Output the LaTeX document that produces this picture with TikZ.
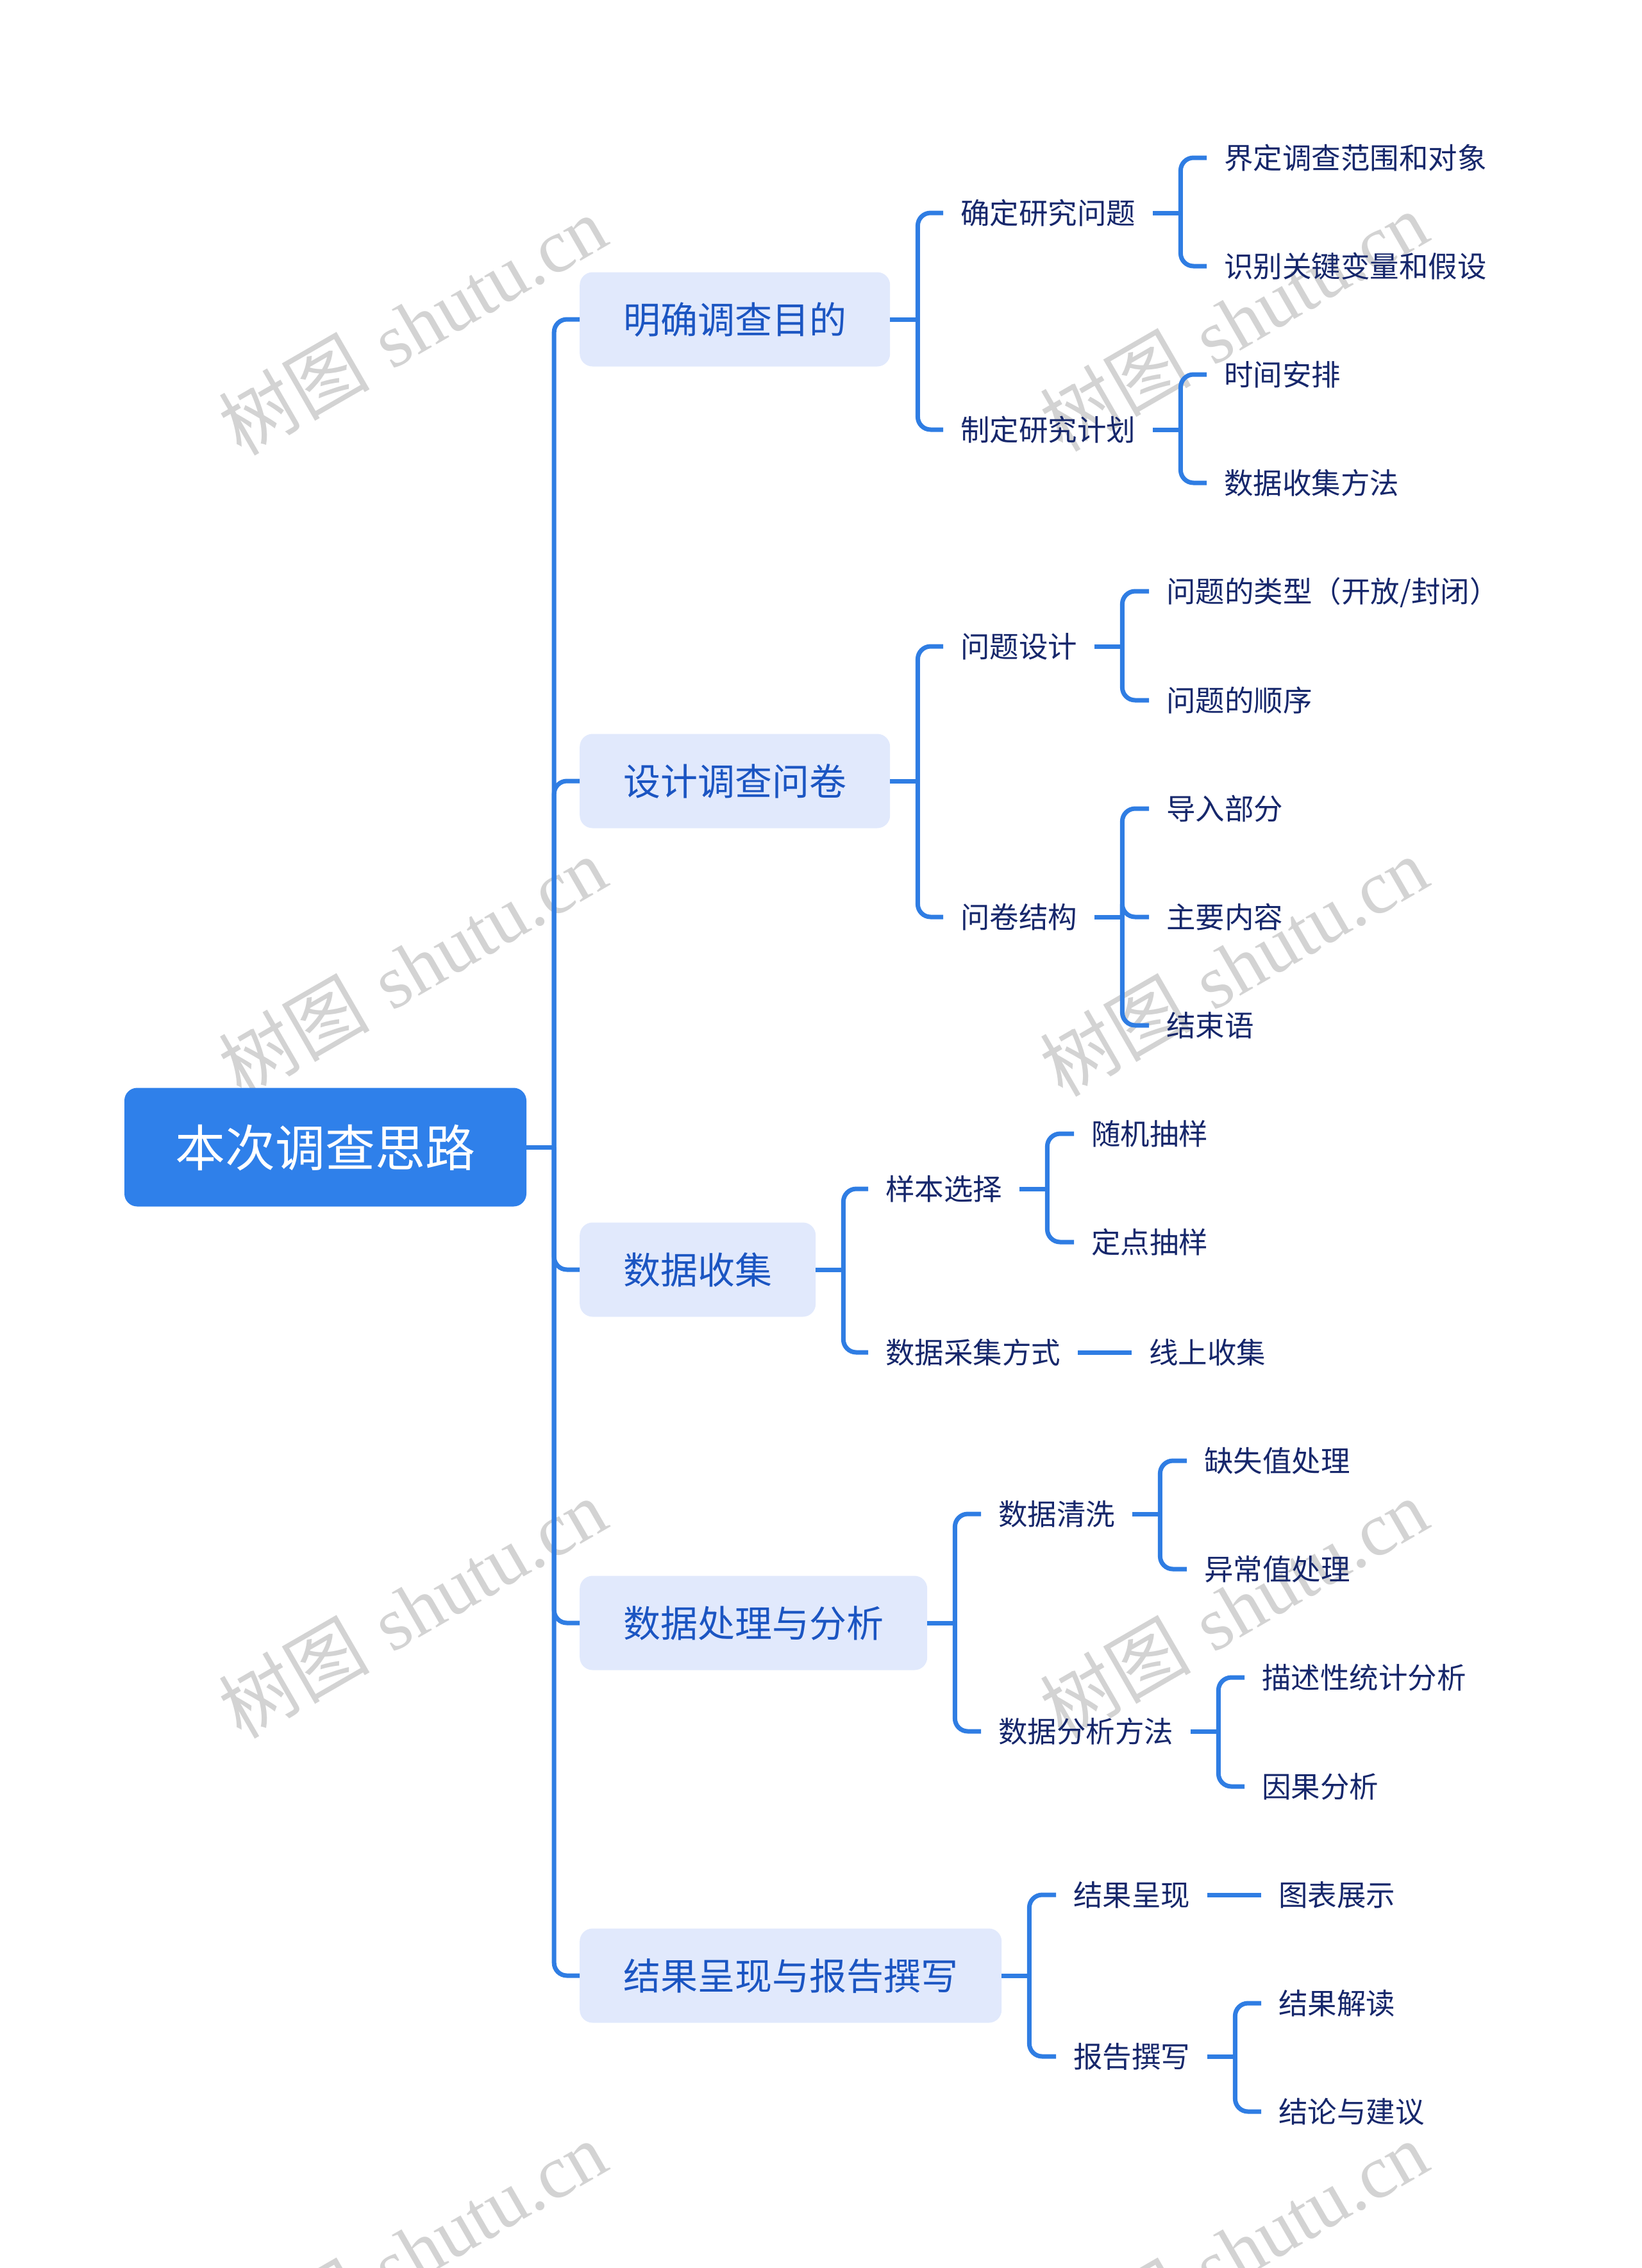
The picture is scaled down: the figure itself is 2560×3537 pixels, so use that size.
\documentclass[tikz,border=0pt]{standalone}
\usepackage{fontspec}
\newfontfamily\cjk{Noto Sans CJK SC}
\newfontfamily\wmserif{Liberation Serif}
\definecolor{lineblue}{HTML}{2F7DE3}
\definecolor{rootblue}{HTML}{2F80EA}
\definecolor{lonefill}{HTML}{E1E9FC}
\definecolor{lonetext}{HTML}{1B55C2}
\definecolor{navy}{HTML}{16276B}
\definecolor{wmgray}{HTML}{D3D3D3}
\begin{document}
\begin{tikzpicture}[x=1pt,y=-1pt,
  conn/.style={line width=7pt, draw=lineblue},
  bracket/.style={conn, rounded corners=20pt},
  rootnode/.style={fill=rootblue, text=white, rounded corners=20pt,
    font=\cjk\fontsize{78}{90}\selectfont, minimum height=185pt,
    minimum width=627pt, inner xsep=0pt, text height=69pt, text depth=9pt},
  lone/.style={fill=lonefill, text=lonetext, rounded corners=20pt,
    font=\cjk\fontsize{58}{70}\selectfont, minimum height=147pt,
    inner xsep=68pt, anchor=west, text height=51pt, text depth=7pt},
  leaf/.style={text=navy, font=\cjk\fontsize{45.5}{55}\selectfont,
    inner sep=0pt, anchor=west, text height=40pt, text depth=5.5pt},
  wm/.style={text=wmgray, rotate=30, inner sep=0pt,
    font=\fontsize{118}{130}\selectfont}
]
\useasboundingbox (0,0) rectangle (2560,3537);

% watermarks
\foreach \wx/\wy [count=\i] in {643/507,1924/501,643/1507,1924/1507,643/2508,1924/2508,643/3510,1924/3510}{
  \node[wm] (wm\i) at (\wx,\wy) {{\cjk 树图} {\wmserif shutu.cn}};
}

% root
\node[rootnode] (root) at (507.5,1789) {本次调查思路};

% level 1
\node[lone] (b1) at (904,498) {明确调查目的};
\node[lone] (b2) at (904,1218) {设计调查问卷};
\node[lone] (b3) at (904,1980) {数据收集};
\node[lone] (b4) at (904,2531) {数据处理与分析};
\node[lone] (b5) at (904,3081) {结果呈现与报告撰写};

% level 2
\node[leaf] (c11) at (1498,332) {确定研究问题};
\node[leaf] (c12) at (1498,670) {制定研究计划};
\node[leaf] (c21) at (1498,1008) {问题设计};
\node[leaf] (c22) at (1498,1430) {问卷结构};
\node[leaf] (c31) at (1381,1854) {样本选择};
\node[leaf] (c32) at (1381,2109) {数据采集方式};
\node[leaf] (c41) at (1557,2361) {数据清洗};
\node[leaf] (c42) at (1557,2700) {数据分析方法};
\node[leaf] (c51) at (1674,2955) {结果呈现};
\node[leaf] (c52) at (1674,3207) {报告撰写};

% level 3
\node[leaf] (d111) at (1909,246) {界定调查范围和对象};
\node[leaf] (d112) at (1909,415) {识别关键变量和假设};
\node[leaf] (d121) at (1909,584) {时间安排};
\node[leaf] (d122) at (1909,753) {数据收集方法};
\node[leaf] (d211) at (1819,922) {问题的类型（开放/封闭）};
\node[leaf] (d212) at (1819,1092) {问题的顺序};
\node[leaf] (d221) at (1819,1261) {导入部分};
\node[leaf] (d222) at (1819,1430) {主要内容};
\node[leaf] (d223) at (1819,1599) {结束语};
\node[leaf] (d311) at (1702,1768) {随机抽样};
\node[leaf] (d312) at (1702,1937) {定点抽样};
\node[leaf] (d321) at (1792,2109) {线上收集};
\node[leaf] (d411) at (1878,2278) {缺失值处理};
\node[leaf] (d412) at (1878,2447) {异常值处理};
\node[leaf] (d421) at (1968,2616) {描述性统计分析};
\node[leaf] (d422) at (1968,2786) {因果分析};
\node[leaf] (d511) at (1994,2955) {图表展示};
\node[leaf] (d521) at (1994,3124) {结果解读};
\node[leaf] (d522) at (1994,3293) {结论与建议};

% root -> level 1
\draw[conn] (root.east) -- ++(43,0) coordinate (rj);
\foreach \b in {b1,b2,b3,b4,b5}{\draw[bracket] (rj) |- (\b.west);}

% level 1 -> level 2
\foreach \b/\x/\y in {b1/c11/c12,b2/c21/c22,b3/c31/c32,b4/c41/c42,b5/c51/c52}{
  \draw[conn] (\b.east) -- ++(43,0) coordinate (\b j);
  \draw[bracket] (\b j) |- ([xshift=-27pt]\x.west);
  \draw[bracket] (\b j) |- ([xshift=-27pt]\y.west);
}

% level 2 -> level 3 (brackets)
\foreach \p/\kids in {c11/{d111,d112},c12/{d121,d122},c21/{d211,d212},c22/{d221,d222,d223},c31/{d311,d312},c41/{d411,d412},c42/{d421,d422},c52/{d521,d522}}{
  \draw[conn] ([xshift=27pt]\p.east) -- ++(43,0) coordinate (\p j);
  \foreach \k in \kids {\draw[bracket] (\p j) |- ([xshift=-27pt]\k.west);}
}

% level 2 -> level 3 (single)
\draw[conn] ([xshift=27pt]c32.east) -- ([xshift=-27pt]d321.west);
\draw[conn] ([xshift=27pt]c51.east) -- ([xshift=-27pt]d511.west);
\end{tikzpicture}
\end{document}
